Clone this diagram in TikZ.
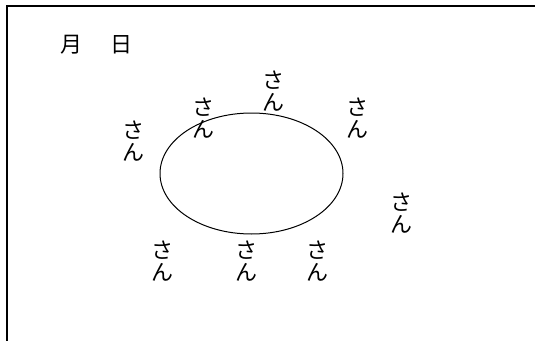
\documentclass[tikz,border=0pt]{standalone}
\usepackage{fontspec}
\usetikzlibrary{shapes.geometric}
\newfontfamily\cjk{Noto Sans CJK JP}
\begin{document}
\begin{tikzpicture}[x=1pt,y=-1pt,
  frameline/.style={line width=1.6pt,line cap=rect},
  ring/.style={line width=1pt},
  san/.style={font=\cjk\fontsize{22}{22}\selectfont,align=center,inner sep=0pt},
  datelabel/.style={font=\cjk\fontsize{22}{22}\selectfont,inner sep=0pt}]
\useasboundingbox (0,0) rectangle (535,340);
\coordinate (tl) at (7,6);
\coordinate (tr) at (535,6);
\coordinate (bl) at (7,340);
\draw[frameline] (tr) -- (tl) -- (bl);
\node[datelabel] (tsuki) at (71,45) {月};
\node[datelabel] (hi) at (121,45) {日};
\node[ring,draw,ellipse,minimum width=183pt,minimum height=121pt,inner sep=0pt] (ring) at (251.5,173.5) {};
\node[san] (s1) at (273,91) {さ\\ん};
\node[san] (s2) at (203,118) {さ\\ん};
\node[san] (s3) at (133,141) {さ\\ん};
\node[san] (s4) at (357,118) {さ\\ん};
\node[san] (s5) at (401,213) {さ\\ん};
\node[san] (s6) at (162,261) {さ\\ん};
\node[san] (s7) at (246,261) {さ\\ん};
\node[san] (s8) at (317,261) {さ\\ん};
\end{tikzpicture}
\end{document}
